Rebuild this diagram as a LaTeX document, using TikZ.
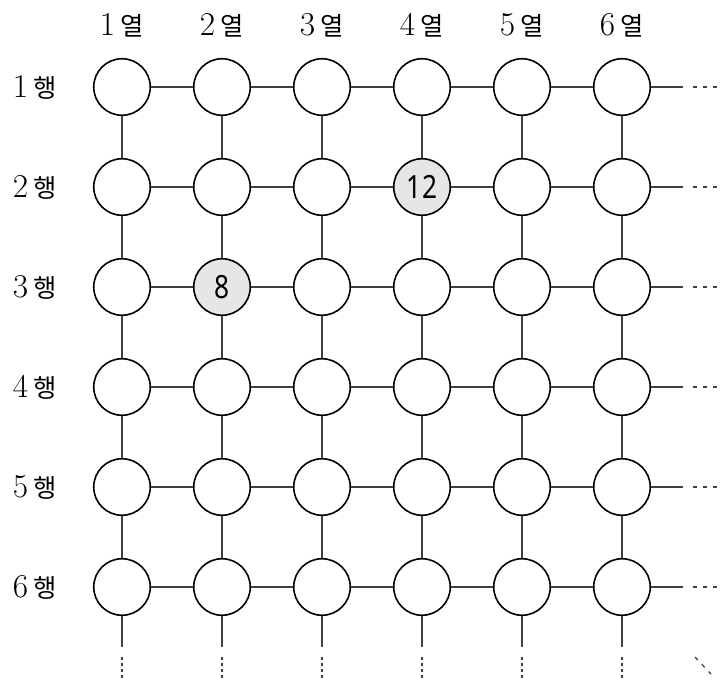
\documentclass[tikz,border=0pt]{standalone}
\usepackage{fontspec}
\newfontfamily\kr{Noto Sans CJK KR}
\newfontfamily\numf{Noto Sans}
\definecolor{cellgray}{HTML}{E6E6E6}
\definecolor{linkgray}{HTML}{404040}
\begin{document}
\begin{tikzpicture}[x=0.75pt,y=-0.75pt,
  cell/.style={circle,draw=black,line width=1.2pt,minimum size=42.4pt,inner sep=0pt,
    font=\numf\fontsize{24}{24}\selectfont},
  link/.style={draw=linkgray,line width=1pt},
  morex/.style={draw=linkgray,line width=1pt,dash pattern=on 3pt off 4.5pt},
  morey/.style={draw=linkgray,line width=1pt,dash pattern=on 2.25pt off 2.25pt},
  lab/.style={inner sep=0pt,font=\fontsize{25}{26}\selectfont}]
\useasboundingbox (0,0) rectangle (722,683);
% column and row labels
\foreach \c in {1,...,6}{
  \node[lab] (col\c) at ({22+100*\c},25) {\c\,{\kr\fontsize{19}{24}\selectfont 열}};
  \node[lab] (row\c) at (35,{-13+100*\c}) {\c\,{\kr\fontsize{19}{24}\selectfont 행}};
}
% cells
\foreach \r in {1,...,6}{\foreach \c in {1,...,6}{
  \def\t{}\def\f{white}
  \ifnum\r=2 \ifnum\c=4 \def\t{\scalebox{0.82}[1]{12}}\def\f{cellgray}\fi\fi
  \ifnum\r=3 \ifnum\c=2 \def\t{\scalebox{0.82}[1]{8}}\def\f{cellgray}\fi\fi
  \node[cell,fill=\f] (c\r-\c) at ({22+100*\c},{-13+100*\r}) {\t};
}}
% horizontal links
\foreach \r in {1,...,6}{\foreach \c in {1,...,5}{
  \pgfmathtruncatemacro\n{\c+1}
  \draw[link] (c\r-\c) -- (c\r-\n);
}}
% vertical links
\foreach \r in {1,...,5}{\foreach \c in {1,...,6}{
  \pgfmathtruncatemacro\n{\r+1}
  \draw[link] (c\r-\c) -- (c\n-\c);
}}
% right continuations
\foreach \r in {1,...,6}{
  \coordinate (re\r) at (683,{-13+100*\r});
  \coordinate (ra\r) at (693,{-13+100*\r});
  \coordinate (rb\r) at (719,{-13+100*\r});
  \draw[link] (c\r-6) -- (re\r);
  \draw[morex] (ra\r) -- (rb\r);
}
% bottom continuations
\foreach \c in {1,...,6}{
  \coordinate (be\c) at ({22+100*\c},647);
  \coordinate (ba\c) at ({22+100*\c},657);
  \coordinate (bb\c) at ({22+100*\c},679);
  \draw[link] (c6-\c) -- (be\c);
  \draw[morey] (ba\c) -- (bb\c);
}
% diagonal continuation
\coordinate (da) at (695,657);
\coordinate (db) at (711,674);
\draw[morex] (da) -- (db);
\end{tikzpicture}
\end{document}
